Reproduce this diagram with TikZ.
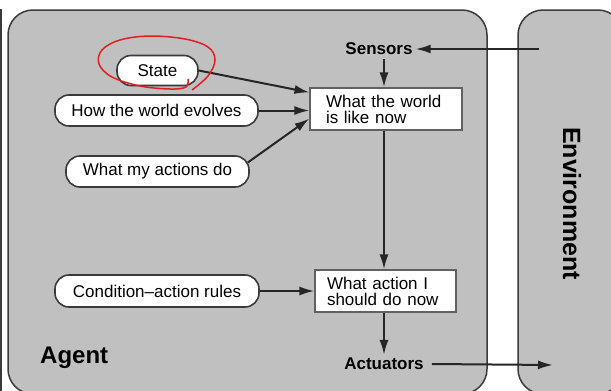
\documentclass[tikz,border=0pt]{standalone}
\usepackage{fontspec}
\setmainfont{Liberation Sans}
\usetikzlibrary{arrows.meta,calc}
\definecolor{agentgray}{HTML}{C0C0C0}
\definecolor{edgegray}{HTML}{3A3A3A}
\definecolor{inkred}{HTML}{E02020}
\begin{document}
\begin{tikzpicture}[x=1pt,y=-1pt,
 panel/.style={draw=edgegray, line width=1.5pt, fill=agentgray, rounded corners=25pt},
 pill/.style={draw=edgegray, fill=white, line width=1.6pt, rounded corners=14pt, inner sep=0pt, font=\fontsize{17}{17}\selectfont},
 statebox/.style={draw=edgegray!80, fill=white, line width=1.1pt, inner ysep=0pt, align=left, font=\fontsize{17}{16}\selectfont},
 lbl/.style={font=\bfseries\fontsize{17}{17}\selectfont, inner sep=3pt},
 arr/.style={-{Latex[length=15pt,width=9pt]}, line width=2pt, draw=black!85},
]
\useasboundingbox (0,0) rectangle (611,391);
\begin{scope}
\clip (0,0) rectangle (611,391);
\draw[panel] (8,394) -- (8,10) -- (487,10) -- (487,394) -- cycle;
\draw[panel] (518,394) -- (518,10) -- (623,10) -- (623,394) -- cycle;
\end{scope}
\draw[edgegray, line width=2pt] (1,9) -- (1,391);

\node[pill, minimum width=81pt, minimum height=30pt] (state) at (157.5,70.5) {State};
\node[pill, minimum width=203pt, minimum height=31pt] (evolve) at (156.5,110.5) {How the world evolves};
\node[pill, minimum width=183pt, minimum height=31pt] (acts) at (157.5,171.5) {What my actions do};
\node[pill, minimum width=204pt, minimum height=32pt] (rules) at (157,291) {Condition–action rules};

\node[statebox, inner xsep=16pt, text width=120pt, minimum height=42pt] (world) at (386,109) {What the world\\is like now};
\node[statebox, inner xsep=12pt, text width=117pt, minimum height=42pt] (action) at (385.5,291) {What action I\\should do now};

\node[lbl] (sensors) at (379,49) {Sensors};
\node[lbl, inner xsep=8pt] (actuators) at (384,364) {Actuators};
\node[font=\bfseries\fontsize{24}{24}\selectfont, anchor=base west, inner sep=0pt] (agent) at (40,363) {Agent};
\node[font=\bfseries\fontsize{25}{25}\selectfont, rotate=-90, anchor=base, inner sep=0pt] (env) at (563,203.5) {Environment};

\coordinate (envout) at (539,49);
\coordinate (envin) at (553,365);
\coordinate (sdown) at (384,59);

\draw[arr] (envout) -- (sensors.east);
\draw[arr] (sdown) -- (sdown |- world.north);
\draw[arr] (state.east) -- ([yshift=-5pt]world.north west);
\draw[arr] (evolve.east) -- (world.west |- evolve.east);
\draw[arr] ([xshift=-2pt,yshift=9pt]acts.east) -- ([yshift=12pt]world.south west);
\draw[arr] ([xshift=-2pt]world.south) -- ([xshift=-1.5pt]action.north);
\draw[arr] (rules.east) -- (action.west |- rules.east);
\draw[arr] ([xshift=-1.5pt]action.south) -- (actuators.north);
\draw[arr] (actuators.east) -- (envin);

\draw[inkred, line width=1.5pt] plot[smooth, tension=0.6] coordinates {(188,79) (186,87) (170,89) (140,86) (112,77) (99,64) (102,50) (120,40) (150,36) (185,39) (208,47) (215,60) (208,76) (192,90)};
\end{tikzpicture}
\end{document}
